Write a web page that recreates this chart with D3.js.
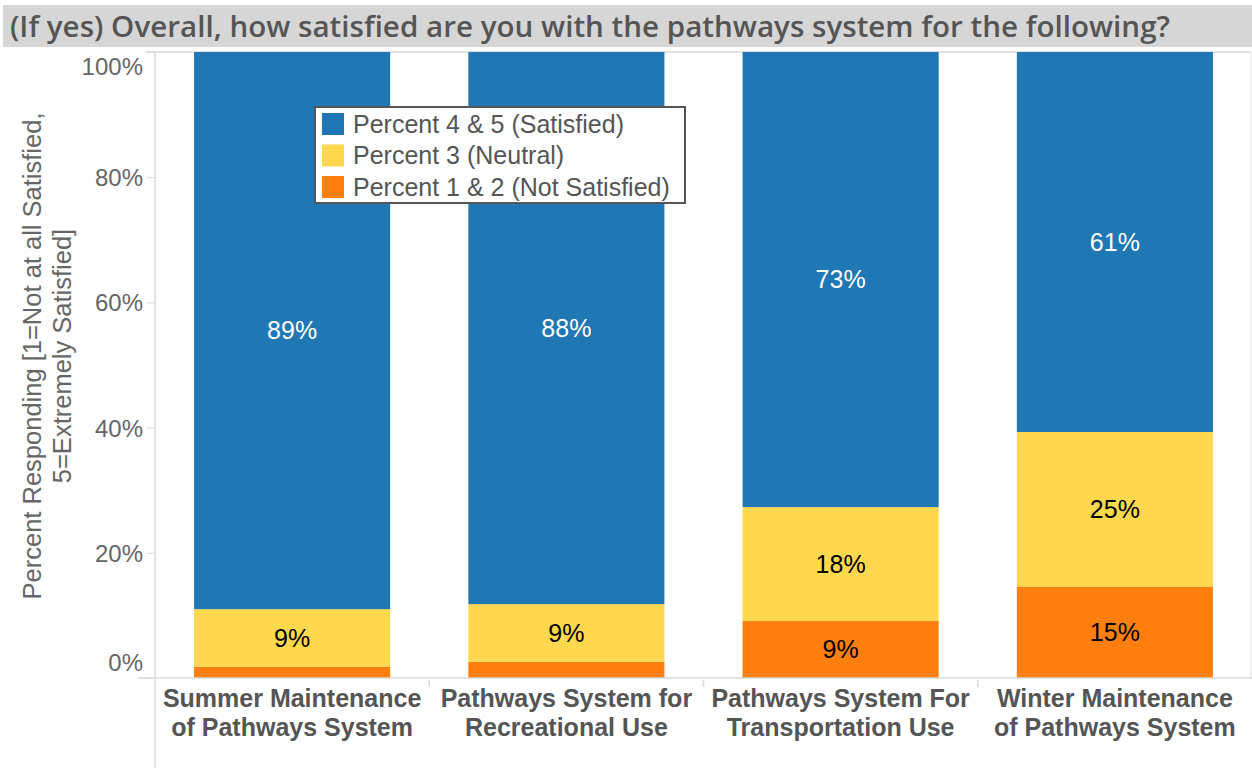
<!DOCTYPE html>
<html>
<head>
<meta charset="utf-8">
<script src="https://cdn.jsdelivr.net/npm/d3@7"></script>
<style>
  html, body { margin: 0; padding: 0; background: #fff; }
  svg { display: block; }
</style>
</head>
<body>
<svg id="chart" width="1252" height="768"></svg>
<script>
// Survey categories (two-line axis labels)
const categories = [
  ["Summer Maintenance", "of Pathways System"],
  ["Pathways System for", "Recreational Use"],
  ["Pathways System For", "Transportation Use"],
  ["Winter Maintenance", "of Pathways System"]
];
// Series, stacked bottom to top (percent of respondents)
const notSatisfied = [1.8, 2.6, 9.1, 14.6];
const neutral      = [9.2, 9.2, 18.2, 24.7];
const satisfied    = [89.0, 88.2, 72.7, 60.7];

const seriesNames  = ["Percent 4 & 5 (Satisfied)", "Percent 3 (Neutral)", "Percent 1 & 2 (Not Satisfied)"];
const seriesColors = ["#1f77b4", "#ffd84d", "#ff7f0e"];
const yTicks = [0, 20, 40, 60, 80, 100];

const titleText = "(If yes) Overall, how satisfied are you with the pathways system for the following?";
const yTitle = ["Percent Responding [1=Not at all Satisfied,", "5=Extremely Satisfied]"];

const svg = d3.select("#chart");
const W = 1252, H = 768;
const plot = { left: 155, right: 1252, top: 52, bottom: 678 };
const gray = "#d9d9d9";
const sans = "'Liberation Sans', Arial, sans-serif";

// Title band
svg.append("rect").attr("x", 3).attr("y", 5).attr("width", W - 3).attr("height", 42).attr("fill", "#d6d6d6");
svg.append("text")
  .attr("x", 10).attr("y", 37)
  .attr("font-family", "'Open Sans', 'DejaVu Sans Condensed', sans-serif")
  .attr("font-weight", 600).attr("font-size", 29)
  .attr("textLength", 1160).attr("lengthAdjust", "spacingAndGlyphs")
  .attr("fill", "#555").text(titleText);

// Scales
const x = d3.scaleBand().domain(d3.range(categories.length)).range([plot.left, plot.right]).paddingInner(0.285).paddingOuter(0.1425);
const y = d3.scaleLinear().domain([0, 100]).range([plot.bottom, plot.top]);

// Frame lines
svg.append("line").attr("x1", 146).attr("x2", W - 1).attr("y1", y(100)).attr("y2", y(100)).attr("stroke", gray).attr("stroke-width", 1.5);
svg.append("line").attr("x1", W - 1).attr("x2", W - 1).attr("y1", y(100)).attr("y2", plot.bottom).attr("stroke", "#eee").attr("stroke-width", 1.5);

// Stack
const rows = categories.map((c, i) => ({ i, ns: notSatisfied[i], ne: neutral[i], sa: satisfied[i] }));
const stack = d3.stack().keys(["ns", "ne", "sa"])(rows);
const keyColor = { ns: seriesColors[2], ne: seriesColors[1], sa: seriesColors[0] };
const keyLabel = { ns: "#000", ne: "#000", sa: "#fff" };
const fmt = v => Math.round(v) + "%";

stack.forEach(layer => {
  const g = svg.append("g");
  g.selectAll("rect").data(layer).join("rect")
    .attr("x", d => x(d.data.i))
    .attr("width", x.bandwidth())
    .attr("y", d => y(d[1]))
    .attr("height", d => y(d[0]) - y(d[1]))
    .attr("fill", keyColor[layer.key]);
  g.selectAll("text").data(layer.filter(d => d[1] - d[0] >= 5)).join("text")
    .attr("x", d => x(d.data.i) + x.bandwidth() / 2)
    .attr("y", d => (y(d[0]) + y(d[1])) / 2)
    .attr("dy", "0.35em")
    .attr("text-anchor", "middle")
    .attr("font-family", sans)
    .attr("font-size", 25)
    .attr("fill", keyLabel[layer.key])
    .text(d => fmt(d[1] - d[0]));
});

// Y axis
const yAxis = svg.append("g").attr("transform", `translate(${plot.left},0)`)
  .call(d3.axisLeft(y).tickValues(yTicks).tickFormat(d => d + "%").tickSize(8).tickPadding(4));
yAxis.select(".domain").remove();
yAxis.selectAll(".tick line").attr("stroke", gray);
yAxis.selectAll(".tick text")
  .attr("font-family", sans)
  .attr("font-size", 24).attr("fill", "#666")
  .attr("dy", (d) => d === 100 ? "0.95em" : (d === 0 ? "-0.3em" : "0.35em"));
svg.append("line").attr("x1", plot.left).attr("x2", plot.left).attr("y1", y(100)).attr("y2", H).attr("stroke", gray).attr("stroke-width", 1.5);

// X axis baseline and category dividers
svg.append("line").attr("x1", 138).attr("x2", W).attr("y1", plot.bottom).attr("y2", plot.bottom).attr("stroke", gray).attr("stroke-width", 1.5);
const step = x.step();
d3.range(1, categories.length).forEach(k => {
  const xd = plot.left + step * k;
  svg.append("line").attr("x1", xd).attr("x2", xd).attr("y1", plot.bottom + 2).attr("y2", plot.bottom + 9).attr("stroke", gray).attr("stroke-width", 1.5);
});

// Category labels
const catG = svg.append("g");
categories.forEach((lines, i) => {
  const cx = x(i) + x.bandwidth() / 2;
  const t = catG.append("text")
    .attr("text-anchor", "middle")
    .attr("font-family", sans)
    .attr("font-weight", "bold").attr("font-size", 25).attr("fill", "#555");
  lines.forEach((l, j) => t.append("tspan").attr("x", cx).attr("y", 707 + j * 29).text(l));
});

// Y axis title
const yt = svg.append("text")
  .attr("transform", `translate(0,356) rotate(-90)`)
  .attr("text-anchor", "middle")
  .attr("font-family", sans)
  .attr("font-size", 25.5).attr("fill", "#666");
yTitle.forEach((l, j) => yt.append("tspan").attr("x", 0).attr("y", 41 + j * 30).text(l));

// Legend
const lg = svg.append("g").attr("transform", "translate(315,107)");
lg.append("rect").attr("width", 370).attr("height", 96).attr("fill", "#fff").attr("stroke", "#555").attr("stroke-width", 2);
seriesNames.forEach((n, j) => {
  lg.append("rect").attr("x", 7).attr("y", 6 + j * 31.5).attr("width", 22).attr("height", 22).attr("fill", seriesColors[j]);
  lg.append("text").attr("x", 38).attr("y", 17 + j * 31.5).attr("dy", "0.35em")
    .attr("font-family", sans)
    .attr("font-size", 25).attr("fill", "#555").text(n);
});
</script>
</body>
</html>
